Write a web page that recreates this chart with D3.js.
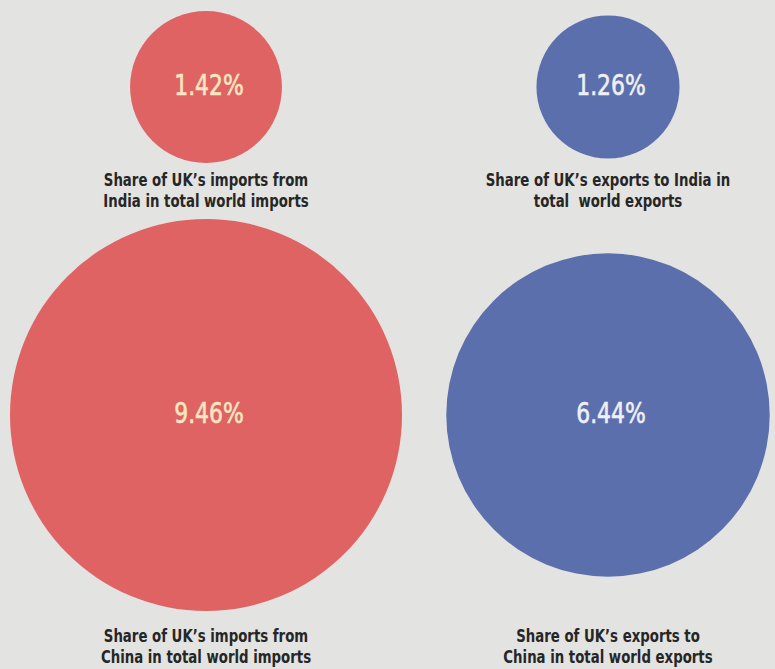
<!DOCTYPE html>
<html>
<head>
<meta charset="utf-8">
<script src="https://cdn.jsdelivr.net/npm/d3@7"></script>
<style>
  html, body { margin: 0; padding: 0; background: #e3e3e1; }
  svg { display: block; }
</style>
</head>
<body>
<svg id="chart" width="775" height="669"></svg>
<script>
// ---- data ----
const flows = ["imports", "exports"];
const partners = ["India", "China"];
const shares = [
  { partner: "India", flow: "imports", value: 1.42 },
  { partner: "India", flow: "exports", value: 1.26 },
  { partner: "China", flow: "imports", value: 9.46 },
  { partner: "China", flow: "exports", value: 6.44 }
];
const captions = [
  ["Share of UK\u2019s imports from", "India in total world imports"],
  ["Share of UK\u2019s exports to India in", "total  world exports"],
  ["Share of UK\u2019s imports from", "China in total world imports"],
  ["Share of UK\u2019s exports to", "China in total world exports"]
];

// ---- layout ----
const svg = d3.select("#chart");
const W = 775, H = 669;
svg.append("rect").attr("width", W).attr("height", H).attr("fill", "#e3e3e1");

const x = d3.scalePoint().domain(flows).range([206, 608]);
const y = d3.scalePoint().domain(partners).range([87, 415]);
const r = d3.scaleSqrt().domain([0, d3.max(shares, d => d.value)]).range([0, 196]);
const fill = d3.scaleOrdinal().domain(flows).range(["#e06363", "#5c6fad"]);
const valueColor = d3.scaleOrdinal().domain(flows).range(["#f6e6c2", "#eef0f6"]);
const captionY = d3.scaleOrdinal().domain(partners).range([186, 642]);
const FONT = "'DejaVu Sans Condensed', 'DejaVu Sans', sans-serif";

const g = svg.selectAll("g.bubble").data(shares).join("g").attr("class", "bubble");

g.append("circle")
  .attr("cx", d => x(d.flow))
  .attr("cy", d => y(d.partner))
  .attr("r", d => r(d.value))
  .attr("fill", d => fill(d.flow));

g.append("g")
  .attr("transform", d => `translate(${x(d.flow) + 3},${y(d.partner) + 8}) scale(0.84,1)`)
  .append("text")
  .attr("text-anchor", "middle")
  .attr("font-family", FONT)
  .attr("font-size", 29)
  .attr("fill", d => valueColor(d.flow))
  .attr("stroke", d => valueColor(d.flow))
  .attr("stroke-width", 0.6)
  .text(d => d.value.toFixed(2) + "%");

g.each(function(d, i) {
  captions[i].forEach((line, k) => {
    d3.select(this).append("g")
      .attr("transform", `translate(${x(d.flow)},${captionY(d.partner) + k * 20.5}) scale(0.86,1)`)
      .append("text")
      .attr("text-anchor", "middle")
      .attr("font-family", FONT)
      .attr("font-weight", "bold")
      .attr("font-size", 17.2)
      .attr("fill", "#262626")
      .style("white-space", "pre")
      .text(line);
  });
});
</script>
</body>
</html>
